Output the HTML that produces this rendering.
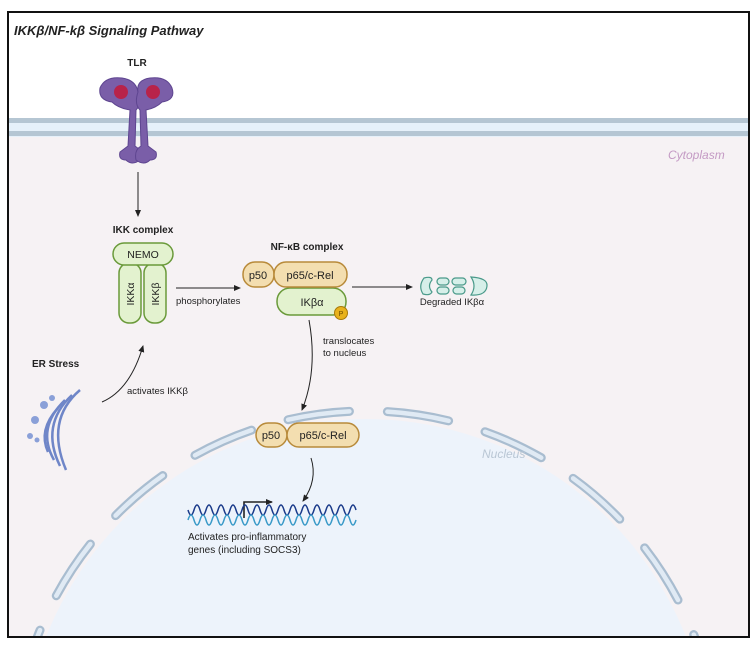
<!DOCTYPE html>
<html><head><meta charset="utf-8"><style>
html,body{margin:0;padding:0;background:#fff;width:756px;height:649px;overflow:hidden;}
svg{display:block;font-family:"Liberation Sans",sans-serif;}
</style></head><body>
<svg width="756" height="649" viewBox="0 0 756 649" xmlns="http://www.w3.org/2000/svg">
<defs>
<marker id="ah" markerWidth="8" markerHeight="8" refX="6" refY="3" orient="auto" markerUnits="userSpaceOnUse"><path d="M0,0 L7,3 L0,6 Z" fill="#222"/></marker>
<clipPath id="frame"><rect x="8" y="12" width="741" height="625"/></clipPath>
</defs>
<rect x="0" y="0" width="756" height="649" fill="#fff"/>
<g clip-path="url(#frame)">
<rect x="8" y="137" width="741" height="500" fill="#f6f2f4"/>
<rect x="8" y="118" width="741" height="19" fill="#e6f1fa"/>
<rect x="8" y="118" width="741" height="5" fill="#b5c6d3"/>
<rect x="8" y="131" width="741" height="5" fill="#b5c6d3"/>
<circle cx="366" cy="763" r="344" fill="#edf3fb"/>
<circle cx="366" cy="763" r="352" fill="none" stroke="#a9bdd0" stroke-width="9" stroke-dasharray="62 38" stroke-linecap="round" stroke-dashoffset="20"/>
<circle cx="366" cy="763" r="352" fill="none" stroke="#e0eaf4" stroke-width="4.5" stroke-dasharray="62 38" stroke-linecap="round" stroke-dashoffset="20"/>
</g>
<rect x="8" y="12" width="741" height="625" fill="none" stroke="#111" stroke-width="2"/>
<text x="14" y="35" font-size="13" font-weight="bold" font-style="italic" fill="#222">IKKβ/NF-kβ Signaling Pathway</text>
<text x="668" y="159" font-size="12" font-style="italic" fill="#c49ac4">Cytoplasm</text>
<text x="482" y="458" font-size="12" font-style="italic" fill="#b9c6d4">Nucleus</text>
<!-- TLR -->
<text x="137" y="66" font-size="10" font-weight="bold" text-anchor="middle" fill="#222">TLR</text>
<g fill="#7a5ea8" stroke="#5e4590" stroke-width="1">
<path d="M100,88 Q105,76 122,78 Q136,80 138,92 Q142,104 136,110 L135,146 Q142,150 140,160 Q132,166 126,160 Q118,160 120,152 L128,146 L130,110 Q118,108 112,102 Q98,100 100,88 Z"/>
<path d="M172,88 Q167,76 150,78 Q136,80 138,92 Q134,104 140,110 L141,146 Q134,150 136,160 Q144,166 150,160 Q158,160 156,152 L148,146 L146,110 Q156,108 162,102 Q176,100 172,88 Z"/>
</g>
<circle cx="121" cy="92" r="7" fill="#b8234a"/><circle cx="153" cy="92" r="7" fill="#b8234a"/>
<line x1="138" y1="172" x2="138" y2="216" stroke="#222" stroke-width="1" marker-end="url(#ah)"/>
<text x="143" y="233" font-size="10" font-weight="bold" text-anchor="middle" fill="#222">IKK complex</text>
<!-- IKK -->
<rect x="119" y="263" width="22" height="60" rx="10" fill="#e3f2cf" stroke="#6a9a3a" stroke-width="1.5"/>
<rect x="144" y="263" width="22" height="60" rx="10" fill="#e3f2cf" stroke="#6a9a3a" stroke-width="1.5"/>
<rect x="113" y="243" width="60" height="22" rx="11" fill="#e3f2cf" stroke="#6a9a3a" stroke-width="1.5"/>
<text x="143" y="258" font-size="10.5" text-anchor="middle" fill="#222">NEMO</text>
<text transform="translate(134,294) rotate(-90)" font-size="10.5" text-anchor="middle" fill="#222">IKKα</text>
<text transform="translate(159,294) rotate(-90)" font-size="10.5" text-anchor="middle" fill="#222">IKKβ</text>
<line x1="176" y1="288" x2="240" y2="288" stroke="#222" stroke-width="1" marker-end="url(#ah)"/>
<text x="176" y="304" font-size="9.5" fill="#222">phosphorylates</text>
<!-- NF-kB -->
<text x="307" y="250" font-size="10" font-weight="bold" text-anchor="middle" fill="#222">NF-κB complex</text>
<rect x="277" y="288" width="69" height="27" rx="13" fill="#e3f2cf" stroke="#6a9a3a" stroke-width="1.5"/>
<text x="312" y="306" font-size="11" text-anchor="middle" fill="#222">IKβα</text>
<circle cx="341" cy="313" r="6.5" fill="#e8b21c" stroke="#a87a0a" stroke-width="1"/>
<text x="341" y="316" font-size="7" text-anchor="middle" fill="#6a4a00">P</text>
<rect x="243" y="262" width="31" height="25" rx="12" fill="#f3deb0" stroke="#b88a3a" stroke-width="1.5"/>
<rect x="274" y="262" width="73" height="25" rx="12" fill="#f3deb0" stroke="#b88a3a" stroke-width="1.5"/>
<text x="258" y="279" font-size="11" text-anchor="middle" fill="#222">p50</text>
<text x="310" y="279" font-size="11" text-anchor="middle" fill="#222">p65/c-Rel</text>
<line x1="352" y1="287" x2="412" y2="287" stroke="#222" stroke-width="1" marker-end="url(#ah)"/>
<g fill="#d6efe9" stroke="#4a9a8a" stroke-width="1.2">
<path d="M424,278 Q432,276 432,280 Q427,286 432,292 Q430,296 423,294 Q418,286 424,278 Z"/>
<rect x="437" y="278" width="12" height="7" rx="3.5"/>
<rect x="437" y="287" width="12" height="7" rx="3.5"/>
<rect x="452" y="278" width="14" height="7" rx="3.5"/>
<rect x="453" y="287" width="12" height="7" rx="3.5"/>
<path d="M471,277 Q488,278 487,286 Q486,296 471,295 Q477,286 471,277 Z"/>
</g>
<text x="452" y="305" font-size="9.5" text-anchor="middle" fill="#222">Degraded IKβα</text>
<!-- translocate -->
<path d="M309,320 Q318,370 302,410" fill="none" stroke="#222" stroke-width="1" marker-end="url(#ah)"/>
<text x="323" y="344" font-size="9.5" fill="#222">translocates</text>
<text x="323" y="356" font-size="9.5" fill="#222">to nucleus</text>
<rect x="256" y="423" width="31" height="24" rx="12" fill="#f3deb0" stroke="#b88a3a" stroke-width="1.5"/>
<rect x="287" y="423" width="72" height="24" rx="12" fill="#f3deb0" stroke="#b88a3a" stroke-width="1.5"/>
<text x="271" y="439" font-size="11" text-anchor="middle" fill="#222">p50</text>
<text x="323" y="439" font-size="11" text-anchor="middle" fill="#222">p65/c-Rel</text>
<path d="M311,458 Q318,480 303,501" fill="none" stroke="#222" stroke-width="1" marker-end="url(#ah)"/>
<!-- DNA -->
<path d="M244,518 L244,502 L272,502" fill="none" stroke="#222" stroke-width="1.6" marker-end="url(#ah)"/>
<path d="M188,510 q3,10 6,0 t6,0 t6,0 t6,0 t6,0 t6,0 t6,0 t6,0 t6,0 t6,0 t6,0 t6,0 t6,0 t6,0 t6,0 t6,0 t6,0 t6,0 t6,0 t6,0 t6,0 t6,0 t6,0 t6,0 t6,0 t6,0 t6,0 t6,0" fill="none" stroke="#1a3a8a" stroke-width="1.5"/>
<path d="M188,520 q3,-10 6,0 t6,0 t6,0 t6,0 t6,0 t6,0 t6,0 t6,0 t6,0 t6,0 t6,0 t6,0 t6,0 t6,0 t6,0 t6,0 t6,0 t6,0 t6,0 t6,0 t6,0 t6,0 t6,0 t6,0 t6,0 t6,0 t6,0 t6,0" fill="none" stroke="#3a9ac8" stroke-width="1.5"/>
<text x="188" y="540" font-size="10" fill="#222">Activates pro-inflammatory</text>
<text x="188" y="553" font-size="10" fill="#222">genes (including SOCS3)</text>
<!-- ER -->
<text x="32" y="367" font-size="10" font-weight="bold" fill="#222">ER Stress</text>
<g fill="none" stroke="#6f86c8" stroke-width="2.5">
<path d="M80,390 Q45,420 66,470"/>
<path d="M72,395 Q40,425 60,466"/>
<path d="M65,400 Q36,428 54,460"/>
<path d="M58,408 Q38,430 48,452"/>
</g>
<g fill="#8aa0d8"><circle cx="52" cy="398" r="3"/><circle cx="44" cy="405" r="4"/><circle cx="35" cy="420" r="4"/><circle cx="30" cy="436" r="3"/><circle cx="37" cy="440" r="2.5"/></g>
<path d="M102,402 Q130,390 143,346" fill="none" stroke="#222" stroke-width="1" marker-end="url(#ah)"/>
<text x="127" y="394" font-size="9.5" fill="#222">activates IKKβ</text>
</svg>
</body></html>
